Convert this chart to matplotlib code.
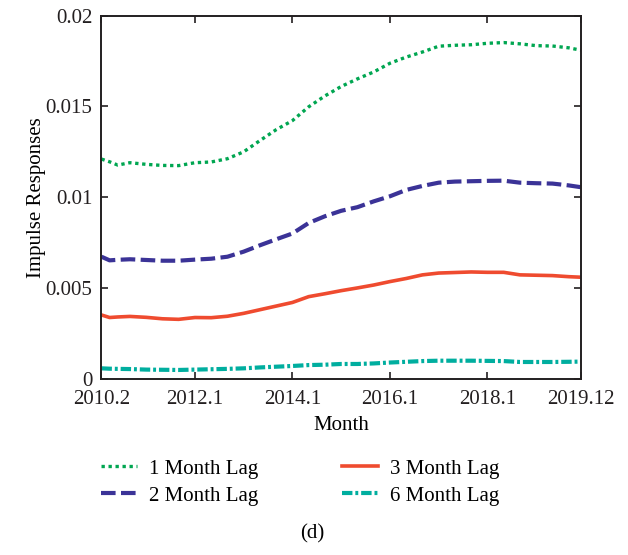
import numpy as np
import matplotlib
matplotlib.use("Agg")
import matplotlib.pyplot as plt

plt.rcParams['font.family'] = ['Liberation Serif', 'DejaVu Serif']

# month index, 0 = 2010.2
months = [0, 2, 4, 7, 11, 15, 19, 23, 27, 31, 35, 39, 43, 47, 51, 55,
          59, 63, 67, 71, 75, 79, 83, 87, 91, 95, 99, 103, 107, 111, 115, 118]

lag1 = [0.01210, 0.01195, 0.01177, 0.01190, 0.01181, 0.01175, 0.01174, 0.01190,
        0.01194, 0.01212, 0.01250, 0.01312, 0.01372, 0.01422, 0.01498, 0.01558,
        0.01610, 0.01652, 0.01690, 0.01738, 0.01772, 0.01800, 0.01832, 0.01837,
        0.01840, 0.01848, 0.01852, 0.01845, 0.01835, 0.01833, 0.01823, 0.01810]

lag2 = [0.00672, 0.00652, 0.00655, 0.00658, 0.00654, 0.00650, 0.00650, 0.00656,
        0.00661, 0.00672, 0.00700, 0.00735, 0.00768, 0.00800, 0.00858, 0.00895,
        0.00925, 0.00945, 0.00977, 0.01005, 0.01040, 0.01062, 0.01080, 0.01086,
        0.01088, 0.01090, 0.01091, 0.01080, 0.01077, 0.01075, 0.01065, 0.01055]

lag3 = [0.00351, 0.00337, 0.00340, 0.00343, 0.00338, 0.00330, 0.00327, 0.00337,
        0.00336, 0.00344, 0.00360, 0.00380, 0.00400, 0.00420, 0.00452, 0.00468,
        0.00485, 0.00500, 0.00516, 0.00535, 0.00552, 0.00572, 0.00582, 0.00585,
        0.00588, 0.00586, 0.00586, 0.00572, 0.00570, 0.00568, 0.00562, 0.00559]

lag6 = [0.00057, 0.00055, 0.00054, 0.00053, 0.00050, 0.00049, 0.00048, 0.00050,
        0.00052, 0.00054, 0.00057, 0.00062, 0.00066, 0.00070, 0.00075, 0.00077,
        0.00081, 0.00081, 0.00084, 0.00089, 0.00093, 0.00097, 0.00099, 0.00099,
        0.00099, 0.00098, 0.00097, 0.00092, 0.00092, 0.00092, 0.00093, 0.00094]

xtick_pos = [0, 23, 47, 71, 95, 118]
xtick_labels = ['2010.2', '2012.1', '2014.1', '2016.1', '2018.1', '2019.12']
ytick_pos = [0, 0.005, 0.01, 0.015, 0.02]
ytick_labels = ['0', '0.005', '0.01', '0.015', '0.02']

fig = plt.figure(figsize=(6.28, 5.55), dpi=100)
ax = fig.add_axes([0.1616, 0.3177, 0.7634, 0.654])

ax.plot(months, lag1, color='#00a651', lw=2.4, ls=(0, (1, 1.1)), label='1 Month Lag')
ax.plot(months, lag2, color='#3b3397', lw=3.0, ls=(0, (3.5, 1.3)), label='2 Month Lag')
ax.plot(months, lag3, color='#ef4b2f', lw=2.6, ls='-', label='3 Month Lag')
ax.plot(months, lag6, color='#00ae9f', lw=3.0, ls=(0, (2.5, 0.7, 0.7, 0.7)), label='6 Month Lag')

ax.set_xlim(0, 118)
ax.set_ylim(0, 0.02)
ax.set_xticks(xtick_pos)
ax.set_xticklabels(xtick_labels)
ax.set_yticks(ytick_pos)
ax.set_yticklabels(ytick_labels)
ax.tick_params(direction='in', top=True, right=True, length=5, width=1.2,
               labelsize=15, colors='#231f20')
ax.tick_params(axis='y', pad=6.5)
ax.tick_params(axis='x', pad=8.5)
for s in ax.spines.values():
    s.set_linewidth(1.4)
    s.set_color('#231f20')

ax.set_xlabel('Month', fontsize=15, labelpad=5)
ax.set_ylabel('Impulse Responses', fontsize=15, labelpad=-0.5)

fig.legend(loc='center', bbox_to_anchor=(0.478, 0.131), ncol=2, frameon=False,
           fontsize=15, handlelength=1.75, handletextpad=0.58, columnspacing=4.0,
           labelspacing=0.35)

fig.text(0.497, 0.038, '(d)', ha='center', va='center', fontsize=15)

fig.savefig('out.png', dpi=100)
